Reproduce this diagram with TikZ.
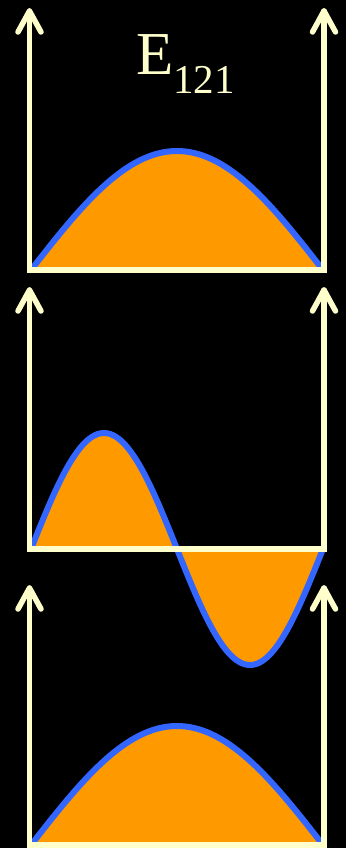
\documentclass[tikz,border=0pt]{standalone}
\usepackage{fontspec}
\setmainfont{Liberation Serif}
\definecolor{axisyellow}{HTML}{FFFFCC}
\definecolor{waveorange}{HTML}{FF9900}
\definecolor{waveblue}{HTML}{3366FF}
\tikzset{
  axisline/.style={draw=axisyellow,line width=5.5pt,line cap=round,line join=round},
  baseline/.style={draw=axisyellow,line width=6pt,line cap=rect},
  wavefill/.style={fill=waveorange},
  waveline/.style={draw=waveblue,line width=6pt,line join=round},
}
\begin{document}
\begin{tikzpicture}[x=1pt,y=-1pt]
\fill[black] (0,0) rectangle (346,848);
\useasboundingbox (0,0) rectangle (346,848);

% waves
\fill[wavefill] plot[domain=0:180,samples=100] ({31+1.62222*\x},{270-119*sin(\x)}) -- cycle;
\draw[waveline] plot[domain=0:180,samples=100] ({31+1.62222*\x},{270-119*sin(\x)});

\fill[wavefill] plot[domain=0:360,samples=160] ({31+0.81111*\x},{549-116*sin(\x)}) -- cycle;
\draw[waveline] plot[domain=0:360,samples=160] ({31+0.81111*\x},{549-116*sin(\x)});

\fill[wavefill] plot[domain=0:180,samples=100] ({31+1.62222*\x},{845-119*sin(\x)}) -- cycle;
\draw[waveline] plot[domain=0:180,samples=100] ({31+1.62222*\x},{845-119*sin(\x)});

% axes
\foreach \i/\yb/\yt in {1/270/11, 2/549/290, 3/845/588} {
  \coordinate (bl\i) at (29.5,\yb);
  \coordinate (br\i) at (324,\yb);
  \coordinate (tl\i) at (29.5,\yt);
  \coordinate (tr\i) at (324,\yt);
  \draw[axisline] (bl\i) -- (tl\i);
  \draw[axisline] (br\i) -- (tr\i);
  \draw[axisline] (tl\i) ++(-11.5,21) -- (tl\i) -- ++(11.5,21);
  \draw[axisline] (tr\i) ++(-11.5,21) -- (tr\i) -- ++(11.5,21);
  \draw[baseline] (bl\i) -- (br\i);
}

\node[anchor=base west,text=axisyellow,inner sep=0pt,font=\fontsize{61}{61}\selectfont] (title) at (136,75)
  {E\raisebox{-19pt}{\fontsize{41}{41}\selectfont 121}};
\end{tikzpicture}
\end{document}
